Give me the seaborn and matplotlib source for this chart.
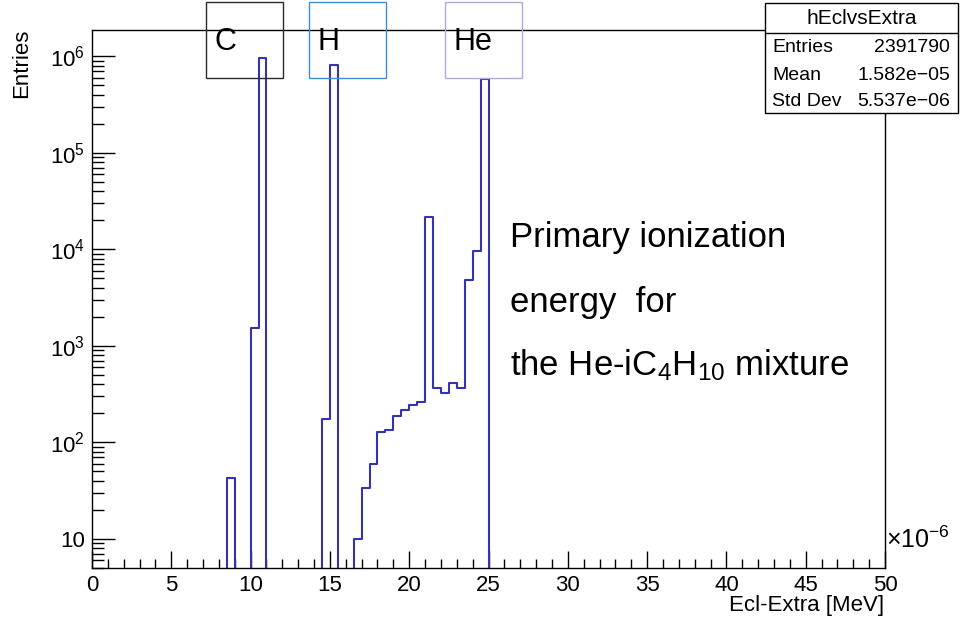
import numpy as np
import pandas as pd
import seaborn as sns
import matplotlib
matplotlib.use("Agg")
import matplotlib.pyplot as plt
from matplotlib.patches import Rectangle
from matplotlib.lines import Line2D
from matplotlib.ticker import MultipleLocator, LogLocator, FuncFormatter, NullFormatter

# ---------------- data (x in units of 1e-6 MeV) ----------------
bin_low = [8.5, 10.0, 10.5, 14.5, 15.0, 16.5, 17.0, 17.5, 18.0, 18.5, 19.0,
           19.5, 20.0, 20.5, 21.0, 21.5, 22.0, 22.5, 23.0, 23.5, 24.0, 24.5]
counts = [43, 1530, 960000, 173, 810000, 10, 34, 60, 129, 133, 189,
          216, 245, 263, 21500, 363, 322, 410, 363, 4800, 9500, 580000]
bin_width = 0.5
x_range = (0, 50)

stats_title = "hEclvsExtra"
stats_rows = [("Entries", "2391790"), ("Mean", "1.582e\u221205"), ("Std Dev", "5.537e\u221206")]
element_labels = ["C", "H", "He"]
element_colors = ["#2a2a2a", "#3d8fd0", "#b4a8dc"]
x_tick_major = 5
x_tick_minor = 1

# ---------------- style ----------------
sns.set_style("ticks")
plt.rcParams["font.family"] = ["Liberation Sans", "DejaVu Sans"]
plt.rcParams["mathtext.fontset"] = "custom"
plt.rcParams["mathtext.rm"] = "Liberation Sans"
plt.rcParams["mathtext.it"] = "Liberation Sans:italic"
plt.rcParams["mathtext.bf"] = "Liberation Sans:bold"
plt.rcParams["mathtext.default"] = "regular"
for k in ["text.color", "axes.labelcolor", "xtick.color", "ytick.color",
          "xtick.labelcolor", "ytick.labelcolor", "axes.edgecolor"]:
    plt.rcParams[k] = "black"

W, H = 960, 619
fig = plt.figure(figsize=(W / 100, H / 100), dpi=100)
fig.patch.set_facecolor("white")

def fx(px):
    return px / W

def fy(py):
    return 1 - py / H

ax = fig.add_axes([fx(92), fy(568), fx(885) - fx(92), fy(30) - fy(568)])

df = pd.DataFrame({"energy": np.array(bin_low) + bin_width / 2, "count": counts})
sns.histplot(data=df, x="energy", weights="count", binwidth=bin_width, binrange=x_range,
             element="step", fill=False, color="#3434b0", linewidth=1.5, ax=ax)

ax.set_yscale("log")
ax.set_xlim(*x_range)
ax.set_ylim(5.0, 1.87e6)
ax.set_xlabel("")
ax.set_ylabel("")

for s in ax.spines.values():
    s.set_color("black")
    s.set_linewidth(1.0)

ax.xaxis.set_major_locator(MultipleLocator(x_tick_major))
ax.xaxis.set_minor_locator(MultipleLocator(x_tick_minor))
ax.yaxis.set_major_locator(LogLocator(base=10, numticks=20))
ax.yaxis.set_minor_locator(LogLocator(base=10, subs=np.arange(2, 10), numticks=20))
ax.yaxis.set_minor_formatter(NullFormatter())

def yfmt(v, pos):
    e = int(round(np.log10(v)))
    if e == 1:
        return "10"
    return r"$10^{%d}$" % e

ax.yaxis.set_major_formatter(FuncFormatter(yfmt))
ax.xaxis.set_major_formatter(FuncFormatter(lambda v, p: "%d" % v))

ax.tick_params(axis="both", which="both", direction="in", color="black",
               labelcolor="black", top=False, right=False, width=1.0)
ax.tick_params(axis="x", which="major", length=12, pad=5, labelsize=16)
ax.tick_params(axis="x", which="minor", length=6.2)
ax.tick_params(axis="y", which="major", length=16.5, pad=5, labelsize=16)
ax.tick_params(axis="y", which="minor", length=8.5)

# axis titles
fig.text(fx(884), fy(605), "Ecl-Extra [MeV]", ha="right", va="center", fontsize=16, color="black")
fig.text(fx(22), fy(29), "Entries", rotation=90, ha="center", va="top", fontsize=16, color="black")
fig.text(fx(886), fy(540), "\u00d710$^{\u22126}$", ha="left", va="center", fontsize=18, color="black")

# element boxes
box_px = [(206, 2, 283, 78), (309, 2, 386, 78), (445, 2, 522, 78)]
for (x0, y0, x1, y1), lab, col in zip(box_px, element_labels, element_colors):
    fig.patches.append(Rectangle((fx(x0), fy(y1)), fx(x1) - fx(x0), fy(y0) - fy(y1),
                                 transform=fig.transFigure, fill=False,
                                 edgecolor=col, linewidth=1.0, zorder=5))
    fig.text(fx(x0 + 9), fy(42), lab, ha="left", va="center", fontsize=22, color="black", zorder=6)

# annotation
fig.text(fx(510), fy(247), "Primary ionization", ha="left", va="baseline", fontsize=25, color="black")
fig.text(fx(510), fy(312), "energy  for", ha="left", va="baseline", fontsize=25, color="black")
fig.text(fx(510), fy(375), r"the He-iC$_{4}$H$_{10}$ mixture", ha="left", va="baseline",
         fontsize=25, color="black")

# stats box
sx0, sy0, sx1, sy1 = 765, 3, 958, 113
fig.patches.append(Rectangle((fx(sx0), fy(sy1)), fx(sx1) - fx(sx0), fy(sy0) - fy(sy1),
                             transform=fig.transFigure, facecolor="white",
                             edgecolor="black", linewidth=1.0, zorder=10))
fig.lines.append(Line2D([fx(sx0), fx(sx1)], [fy(33), fy(33)], transform=fig.transFigure,
                        color="black", linewidth=1.0, zorder=11))
fig.text(fx(862), fy(18), stats_title, ha="center", va="center", fontsize=15, color="black", zorder=12)
for (lab, val), yy in zip(stats_rows, [48, 75, 101]):
    fig.text(fx(772), fy(yy), lab, ha="left", va="center", fontsize=14, color="black", zorder=12)
    fig.text(fx(950), fy(yy), val, ha="right", va="center", fontsize=14, color="black", zorder=12)

fig.savefig("out.png", dpi=100)
